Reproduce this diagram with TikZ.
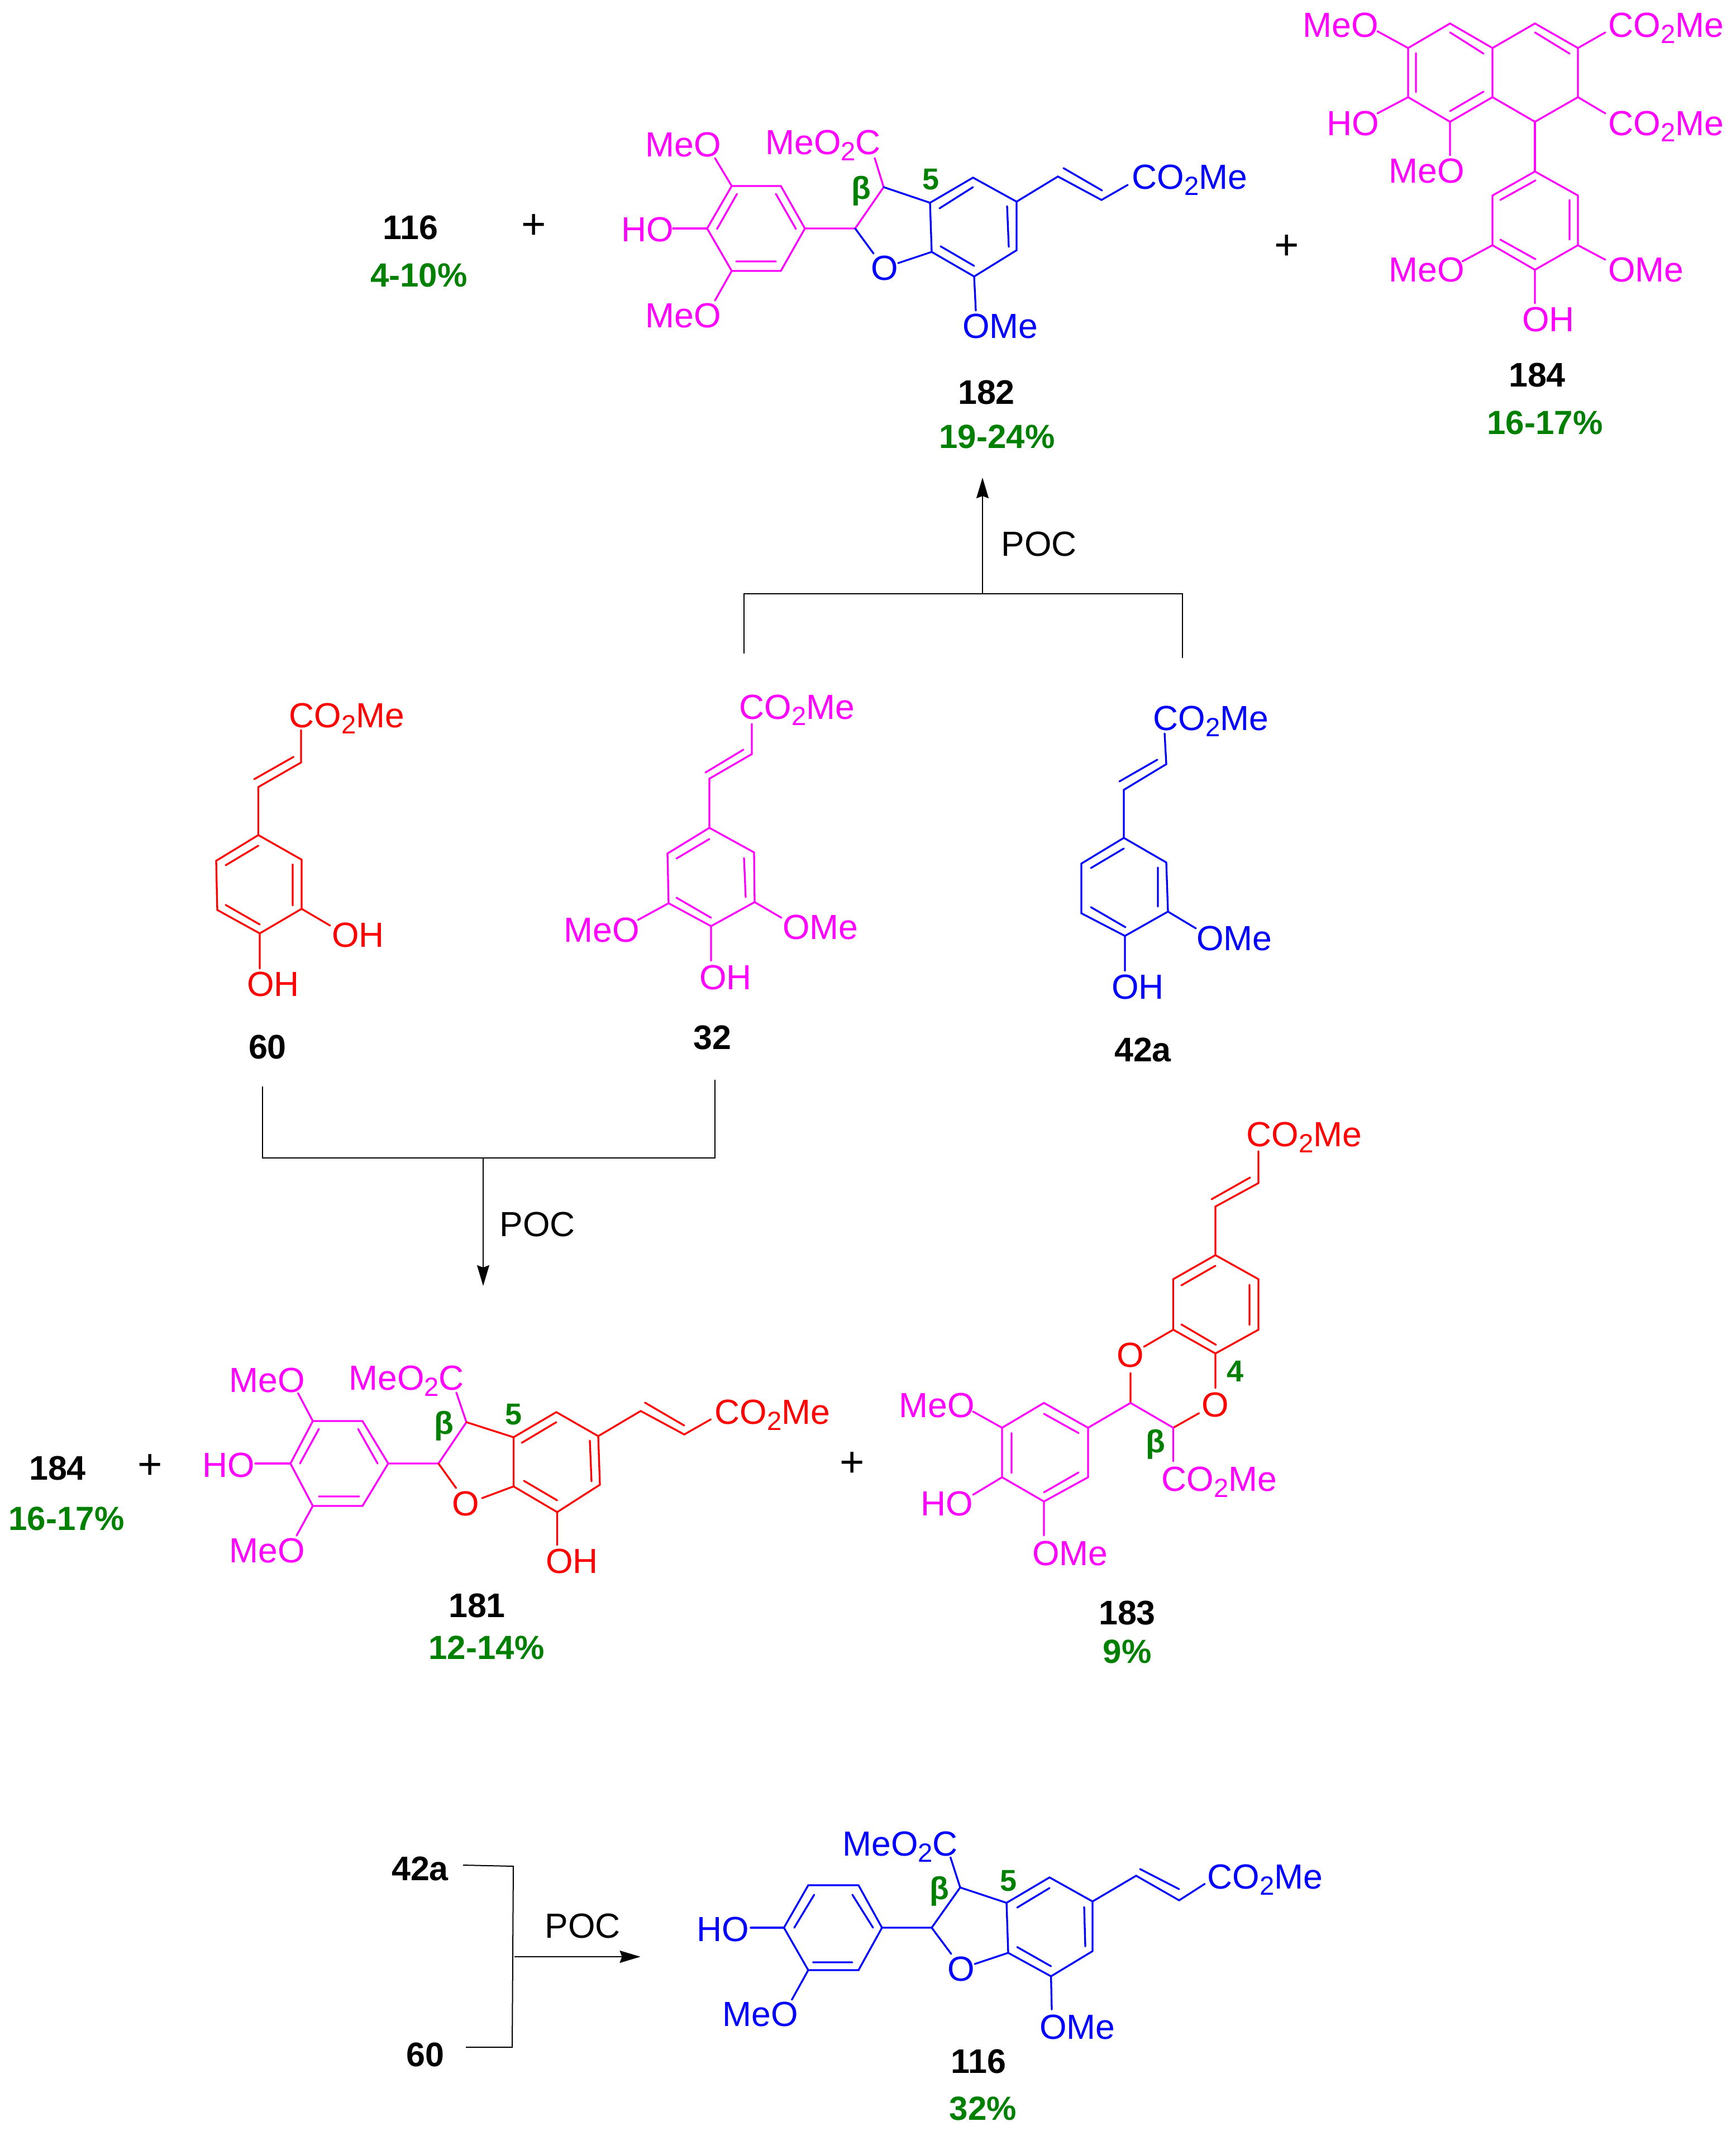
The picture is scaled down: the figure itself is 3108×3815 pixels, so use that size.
\documentclass[tikz,border=0pt]{standalone}
\usepackage{fontspec}
\setmainfont{Liberation Sans}
\usetikzlibrary{arrows.meta}
\definecolor{cm}{RGB}{255,0,255}
\definecolor{cr}{RGB}{255,0,0}
\definecolor{cb}{RGB}{0,0,255}
\definecolor{cg}{RGB}{0,128,0}
\newcommand\sbtwo{\raisebox{-5.5pt}{\fontsize{23.6pt}{24pt}\selectfont 2}}
\newcommand\cotwome{CO\sbtwo Me}
\newcommand\meotwoc{MeO\sbtwo C}
\newcommand\atoms[2]{\foreach \n/\x/\y in {#2} {\coordinate (#1\n) at (\x,\y);}}
% skeleton of the dihydrobenzofuran products: prefix, aryl style, core style
\newcommand\neolig[3]{%
  \draw[#2] (#1a1)--(#1a2)--(#1a3)--(#1a4)--(#1a5)--(#1a6)--cycle;
  \draw[#2] (#1i1a)--(#1i1b) (#1i2a)--(#1i2b) (#1i3a)--(#1i3b);
  \draw[#2] (#1a3)--(#1ca)--(#1cb)--(#1ec);
  \draw[#2] (#1a6)--(#1ho);
  \draw[#3] (#1o1)--(#1ca) (#1o2)--(#1c7) (#1cb)--(#1c3);
  \draw[#3] (#1c3)--(#1c4)--(#1c5)--(#1c6)--(#1c8)--(#1c7)--cycle;
  \draw[#3] (#1i4a)--(#1i4b) (#1i5a)--(#1i5b) (#1i6a)--(#1i6b);
  \draw[#3] (#1c5)--(#1v1)--(#1v2)--(#1ee) (#1i7a)--(#1i7b) (#1c8)--(#1eo);
}
\tikzset{
  bond/.style={line width=1.65pt,line cap=round,line join=miter},
  bm/.style={bond,draw=cm}, br/.style={bond,draw=cr}, bb/.style={bond,draw=cb},
  lab/.style={inner sep=0pt,anchor=base west,font=\fontsize{31.2pt}{36pt}\selectfont},
  lm/.style={lab,text=cm}, lr/.style={lab,text=cr}, lb/.style={lab,text=cb},
  ringO/.style={inner sep=0pt,anchor=base,font=\fontsize{31.2pt}{36pt}\selectfont},
  numlab/.style={inner sep=0pt,anchor=base,text=black,font=\fontsize{30.5pt}{36pt}\selectfont\bfseries},
  yld/.style={inner sep=0pt,anchor=base,text=cg,font=\fontsize{30pt}{36pt}\selectfont\bfseries},
  poslab/.style={inner sep=0pt,anchor=base,text=cg,font=\fontsize{27pt}{30pt}\selectfont\bfseries},
  betalab/.style={inner sep=0pt,anchor=base,text=cg,font=\fontsize{28.5pt}{30pt}\selectfont\bfseries},
  plussign/.style={inner sep=0pt,anchor=center,text=black,font=\fontsize{38pt}{40pt}\selectfont},
  poc/.style={lab,text=black},
  rxn/.style={draw=black,line width=1pt,line join=miter},
  rxnarrow/.style={draw=black,line width=.8pt,-{Stealth[length=18.5pt,width=11pt,inset=2pt]}},
}
\begin{document}
\begin{tikzpicture}[x=0.5pt,y=-0.5pt]
\useasboundingbox (0,0) rectangle (3108,3815);
\fill[white] (0,0) rectangle (3108,3815);

% ---------- 182 ----------
\atoms{b}{a1/1310/333,a2/1398/333,a3/1441/409,a4/1398/485,a5/1310/485,a6/1266/409,ca/1531/409,cb/1582/335,c3/1665/363,c7/1668/451,c4/1742/318,c5/1820/361,c6/1820/448,c8/1744/495,v1/1894/316,v2/1972/358,ee/2019/331,eo/1747/556,ec/1566/283,ho/1205/409,o1/1564/454,o2/1608/471,i1a/1319.5/347,i1b/1283.6/410,i2a/1389/347,i2b/1425/410,i3a/1318/468,i3b/1389/468,i4a/1682/373,i4b/1742/335,i5a/1803/369,i5b/1806/442,i6a/1684/441,i6b/1744/476,i7a/1904/301,i7b/1973/341,m1/1280/283,m2/1280/538}
\neolig{b}{bm}{bb}
\draw[bm] (ba1)--(bm1) (ba5)--(bm2);
\node[lm] (bMeOa) at (1155,281) {MeO};
\node[lm] (bMeOb) at (1155,586) {MeO};
\node[lm] (bHO) at (1112,433) {HO};
\node[lm] (bEst) at (1370,277) {\meotwoc};
\node[lb] (bCO) at (2026,339) {\cotwome};
\node[lb] (bOMe) at (1723,605) {OMe};
\node[ringO,text=cb] (bO) at (1584,502) {O};
\node[betalab] (bbeta) at (1542,357) {β};
\node[poslab] (bfive) at (1666,340) {5};
\node[numlab] (n182) at (1766,723) {182};
\node[yld] (y182) at (1785,802) {19-24\%};

% ---------- left of top row ----------
\node[numlab] (n116a) at (735,429) {116};
\node[yld] (y116a) at (750,514) {4-10\%};
\node[plussign] (p1) at (956,406) {+};
\node[plussign] (p2) at (2304,443) {+};

% ---------- 184 ----------
\atoms{t}{a/2521/86,b/2596/42,c/2672/86,d/2672/174,e/2596/218,f/2521/174,g/2748/42,h/2825/86,i/2825/174,j/2748/218,k/2748/307,l/2825/350,m/2825/439,n/2748/483,o/2672/439,p/2672/350,q1/2466/56,q2/2466/203,q3/2596/278,q4/2874/58,q5/2874/203,q6/2618/468,q7/2874/465,q8/2748/543,d1a/2596/58,d1b/2656/96,d2a/2535/95,d2b/2535/165,d3a/2596/199,d3b/2656/164,d4a/2748/58,d4b/2810/96,d5a/2686/358,d5b/2749/323,d6a/2810/358,d6b/2810/429,d7a/2686/429,d7b/2749/464}
\draw[bm] (ta)--(tb)--(tc)--(td)--(te)--(tf)--cycle;
\draw[bm] (tc)--(tg)--(th)--(ti)--(tj)--(td);
\draw[bm] (tj)--(tk);
\draw[bm] (tk)--(tl)--(tm)--(tn)--(to)--(tp)--cycle;
\draw[bm] (ta)--(tq1) (tf)--(tq2) (te)--(tq3) (th)--(tq4) (ti)--(tq5) (to)--(tq6) (tm)--(tq7) (tn)--(tq8);
\draw[bm] (td1a)--(td1b) (td2a)--(td2b) (td3a)--(td3b) (td4a)--(td4b) (td5a)--(td5b) (td6a)--(td6b) (td7a)--(td7b);
\node[lm] (tMeOa) at (2332,67) {MeO};
\node[lm] (tHO) at (2375,243) {HO};
\node[lm] (tMeOb) at (2486,328) {MeO};
\node[lm] (tMeOc) at (2486,505) {MeO};
\node[lm] (tOMe) at (2879,505) {OMe};
\node[lm] (tOH) at (2725,593) {OH};
\node[lm] (tCOa) at (2879,67) {\cotwome};
\node[lm] (tCOb) at (2879,243) {\cotwome};
\node[numlab] (n184a) at (2752,692) {184};
\node[yld] (y184a) at (2766,777) {16-17\%};

% ---------- upper reaction bracket ----------
\atoms{u}{l/1332/1170,lc/1332/1063,m/1759/1063,r/2117/1178,rc/2117/1063,t/1759/855}
\draw[rxn] (ul)--(ulc)--(urc)--(ur);
\draw[rxnarrow] (um)--(ut);
\node[poc] (pocA) at (1792,995) {POC};

% ---------- 60 ----------
\atoms{f}{a/462.5/1495,b/540/1539,c/540/1627,d/465/1671,e/389/1629,f/387/1541,v1/462.5/1409,v2/539/1365,e1/539/1307,i0a/455/1395,i0b/525.5/1355,i1a/404/1549,i1b/462.5/1514,i2a/524/1547.5,i2b/524/1621,i3a/404/1620,i3b/465/1655,o1/591/1657,o2/465/1734}
\draw[br] (fa)--(fb)--(fc)--(fd)--(fe)--(ff)--cycle;
\draw[br] (fa)--(fv1)--(fv2)--(fe1) (fi0a)--(fi0b) (fi1a)--(fi1b) (fi2a)--(fi2b) (fi3a)--(fi3b) (fc)--(fo1) (fd)--(fo2);
\node[lr] (fCO) at (517,1302) {\cotwome};
\node[lr] (fOHa) at (594,1695) {OH};
\node[lr] (fOHb) at (442,1783) {OH};
\node[numlab] (n60a) at (479,1895) {60};

% ---------- 32 ----------
\atoms{s}{a/1270/1482,b/1350/1526,c/1351/1615,d/1273/1658,e/1197/1617,f/1195/1528,v1/1270/1394,v2/1346/1350,e1/1346/1296,i0a/1263/1383,i0b/1331/1342,i1a/1211/1537,i1b/1270/1502,i2a/1332/1536,i2b/1335/1606,i3a/1211/1607,i3b/1273/1643,o1/1142/1647,o2/1399/1643,o3/1273/1720}
\draw[bm] (sa)--(sb)--(sc)--(sd)--(se)--(sf)--cycle;
\draw[bm] (sa)--(sv1)--(sv2)--(se1) (si0a)--(si0b) (si1a)--(si1b) (si2a)--(si2b) (si3a)--(si3b) (se)--(so1) (sc)--(so2) (sd)--(so3);
\node[lm] (sCO) at (1323,1287) {\cotwome};
\node[lm] (sMeO) at (1009,1686) {MeO};
\node[lm] (sOMe) at (1401,1681) {OMe};
\node[lm] (sOH) at (1252,1771) {OH};
\node[numlab] (n32) at (1275,1878) {32};

% ---------- 42a ----------
\atoms{g}{a/2012/1500,b/2088/1544,c/2091/1632,d/2014/1675.5,e/1936/1635,f/1936/1546,v1/2012/1414,v2/2088/1368,e1/2085/1313,i0a/2004/1399,i0b/2072/1360,i1a/1953/1554,i1b/2012/1519,i2a/2073/1553,i2b/2073/1623,i3a/1953/1624,i3b/2015/1660,o1/2141/1662,o2/2014/1738}
\draw[bb] (ga)--(gb)--(gc)--(gd)--(ge)--(gf)--cycle;
\draw[bb] (ga)--(gv1)--(gv2)--(ge1) (gi0a)--(gi0b) (gi1a)--(gi1b) (gi2a)--(gi2b) (gi3a)--(gi3b) (gc)--(go1) (gd)--(go2);
\node[lb] (gCO) at (2064,1307) {\cotwome};
\node[lb] (gOMe) at (2142,1701) {OMe};
\node[lb] (gOH) at (1990,1788) {OH};
\node[numlab] (n42a) at (2046,1900) {42a};

% ---------- lower reaction bracket ----------
\atoms{w}{l/470/1945,lc/470/2073,r/1280/1933,rc/1280/2073,m/865/2073,t/865/2302}
\draw[rxn] (wl)--(wlc)--(wrc)--(wr);
\draw[rxnarrow,line width=.6pt] (wm)--(wt);
\node[poc] (pocB) at (894,2213) {POC};

% ---------- 181 ----------
\atoms{c}{a1/560/2544,a2/649/2544,a3/695/2620,a4/649/2696,a5/560/2696,a6/520/2620,ca/785/2620,cb/835/2546,c3/919.4/2573,c7/919.4/2661,c4/996/2528,c5/1071/2571,c6/1074/2658,c8/997.5/2707,v1/1147/2526,v2/1225/2568,ee/1272.5/2541,eo/997.5/2766,ec/817/2493,ho/457/2620,o1/816.6/2664,o2/863/2682,i1a/571/2558,i1b/537/2620,i2a/641/2558,i2b/676/2620,i3a/571/2679,i3b/643/2679,i4a/934/2583,i4b/996/2546,i5a/1056/2579,i5b/1059/2652,i6a/938/2651,i6b/997.5/2686,i7a/1154.6/2511,i7b/1225/2552,m1/533.6/2494,m2/531/2749}
\neolig{c}{bm}{br}
\draw[bm] (ca1)--(cm1) (ca5)--(cm2);
\node[lm] (cMeOa) at (410,2492) {MeO};
\node[lm] (cMeOb) at (410,2797) {MeO};
\node[lm] (cHO) at (362,2644) {HO};
\node[lm] (cEst) at (624,2488) {\meotwoc};
\node[lr] (cCO) at (1279,2549) {\cotwome};
\node[lr] (cOH) at (977,2816) {OH};
\node[ringO,text=cr] (cO) at (834,2713) {O};
\node[betalab] (cbeta) at (795,2567) {β};
\node[poslab] (cfive) at (920,2550) {5};
\node[numlab] (n181) at (854,2895) {181};
\node[yld] (y181) at (871,2970) {12-14\%};
\node[numlab] (n184b) at (103,2649) {184};
\node[yld] (y184b) at (119,2739) {16-17\%};
\node[plussign] (p3) at (269,2626) {+};
\node[plussign] (p4) at (1526,2622) {+};

% ---------- 183 ----------
\atoms{h}{a/2176/2247,b/2253/2290,c/2253/2380.5,d/2176/2423,e/2100.5/2380.5,f/2100.5/2290,v1/2176/2160,v2/2253/2118,e1/2253/2061,i0a/2169/2147,i0b/2238/2108,i1a/2115/2301,i1b/2176/2266,i2a/2237/2300,i2b/2237/2372,i3a/2115/2371,i3b/2177/2407.5,o1/2048/2411,o2/2024/2458,o3/2176/2485,o4/2146.5/2530,x/2024/2511.5,y/2100.5/2556,p/1948/2556,q/1948/2644.6,r/1869/2688,s/1794/2644.6,t/1794/2556,u/1869/2511.5,j1a/1869/2531,j1b/1931/2565.5,j2a/1811/2565.5,j2b/1811/2637,j3a/1869/2671.6,j3b/1931/2636,m1/1742/2527,m2/1742/2676,m3/1869/2749,m4/2100.5/2616}
\draw[br] (ha)--(hb)--(hc)--(hd)--(he)--(hf)--cycle;
\draw[br] (ha)--(hv1)--(hv2)--(he1) (hi0a)--(hi0b) (hi1a)--(hi1b) (hi2a)--(hi2b) (hi3a)--(hi3b);
\draw[br] (he)--(ho1) (ho2)--(hx) (hd)--(ho3) (ho4)--(hy);
\draw[bm] (hp)--(hq)--(hr)--(hs)--(ht)--(hu)--cycle;
\draw[bm] (hj1a)--(hj1b) (hj2a)--(hj2b) (hj3a)--(hj3b);
\draw[bm] (hp)--(hx)--(hy)--(hm4) (ht)--(hm1) (hs)--(hm2) (hr)--(hm3);
\node[lr] (hCOa) at (2231,2052) {\cotwome};
\node[ringO,text=cr] (hOa) at (2024,2447) {O};
\node[ringO,text=cr] (hOb) at (2176,2536) {O};
\node[lm] (hMeO) at (1609,2537) {MeO};
\node[lm] (hHO) at (1648,2713) {HO};
\node[lm] (hOMe) at (1848,2802) {OMe};
\node[lm] (hCOb) at (2079,2669) {\cotwome};
\node[betalab] (hbeta) at (2069,2600) {β};
\node[poslab] (hfour) at (2211,2473) {4};
\node[numlab] (n183) at (2018,2908) {183};
\node[yld] (y183) at (2018,2977) {9\%};

% ---------- bottom reaction ----------
\node[numlab] (n42b) at (752,3366) {42a};
\node[numlab] (n60b) at (761,3699) {60};
\atoms{k}{a/829/3339,b/919/3341,c/917/3665,d/834/3665,m/921/3503,t/1146.5/3503}
\draw[rxn] (ka)--(kb)--(kc)--(kd);
\draw[rxnarrow] (km)--(kt);
\node[poc] (pocC) at (975,3469) {POC};

% ---------- 116 ----------
\atoms{d}{a1/1447/3375,a2/1537/3375,a3/1579/3451,a4/1537/3527,a5/1447/3527,a6/1403.5/3451,ca/1668/3451,cb/1719/3379,c3/1802/3406.5,c7/1805/3496,c4/1879/3361,c5/1956/3404,c6/1956/3493,c8/1881.6/3538,v1/2034/3358,v2/2111/3402,ee/2157/3372.5,eo/1883/3597.5,ec/1701.6/3325,ho/1344/3451,o1/1703/3498,o2/1745/3516,i1a/1457.6/3392,i1b/1422/3451,i2a/1526/3392,i2b/1563/3451,i3a/1455.5/3513,i3b/1526/3513,i4a/1821/3415,i4b/1879/3380,i5a/1941/3414,i5b/1943/3484.5,i6a/1821/3485.6,i6b/1881.6/3520,i7a/2041/3346,i7b/2111/3382,m1/1417.6/3580}
\neolig{d}{bb}{bb}
\draw[bb] (da5)--(dm1);
\node[lb] (dHO) at (1247,3475) {HO};
\node[lb] (dMeO) at (1293,3627) {MeO};
\node[lb] (dEst) at (1508,3322) {\meotwoc};
\node[lb] (dCO) at (2161,3381) {\cotwome};
\node[lb] (dOMe) at (1861,3650) {OMe};
\node[ringO,text=cb] (dO) at (1721,3546) {O};
\node[betalab] (dbeta) at (1682,3400) {β};
\node[poslab] (dfive) at (1805,3385) {5};
\node[numlab] (n116b) at (1752,3711) {116};
\node[yld] (y116b) at (1760,3795) {32\%};
\end{tikzpicture}
\end{document}
